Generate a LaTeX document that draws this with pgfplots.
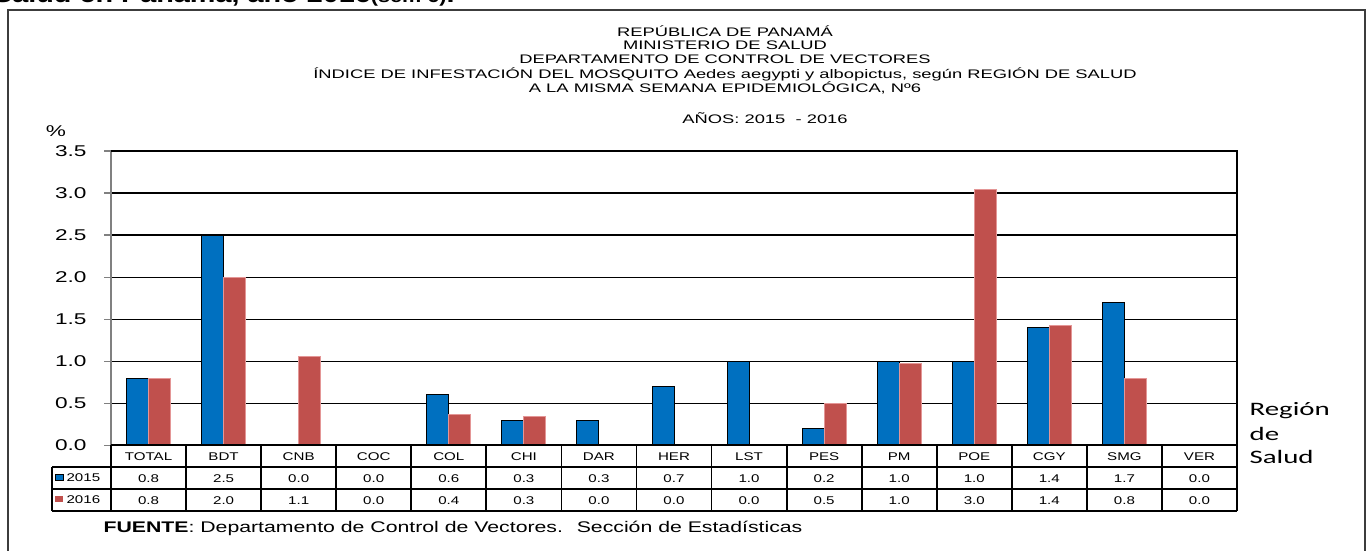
\documentclass[border=0pt]{standalone}
\usepackage{pgfplots}
\pgfplotsset{compat=1.18}
\usepackage{fontspec}
\setmainfont{Liberation Sans}
\newfontfamily\calibri{Carlito}
\definecolor{cblue}{RGB}{0,112,192}
\definecolor{cred}{RGB}{192,80,77}
\definecolor{credge}{RGB}{228,150,150}
\definecolor{frm}{RGB}{60,60,60}
\begin{document}
\begin{tikzpicture}
\useasboundingbox (0,0) rectangle (685pt,275.5pt);
\clip (0,0) rectangle (685pt,275.5pt);
\begin{axis}[
  at={(55.5pt,52.85pt)}, anchor=south west,
  scale only axis, width=563pt, height=147.15pt,
  ymin=0, ymax=3.5, xmin=-0.5, xmax=14.5,
  ybar=0pt, bar width=11pt,
  ytick={0,0.5,1,1.5,2,2.5,3,3.5},
  xtick=\empty,
  ymajorgrids, grid style={black, line width=0.6pt},
  axis line style={draw=none},
  ytick pos=left, tick align=outside, major tick length=3.5pt,
  tick style={gray, line width=0.6pt},
  yticklabel style={font=\fontsize{7.8}{8}\selectfont, xscale=1.45, xshift=-2.5pt, /pgf/number format/fixed, /pgf/number format/zerofill, /pgf/number format/precision=1, /pgf/number format/assume math mode=true},
  clip=false,
]
\addplot[fill=cblue, draw=black, line width=0.5pt] coordinates {(0,0.80) (1,2.50) (2,0) (3,0) (4,0.60) (5,0.30) (6,0.30) (7,0.70) (8,1.00) (9,0.20) (10,1.00) (11,1.00) (12,1.40) (13,1.70) (14,0)};
\addplot[fill=cred, draw=credge, line width=0.5pt] coordinates {(0,0.80) (1,2.00) (2,1.06) (3,0) (4,0.37) (5,0.34) (6,0) (7,0) (8,0) (9,0.50) (10,0.97) (11,3.04) (12,1.42) (13,0.79) (14,0)};
\end{axis}
\begin{scope}[x=0.5pt,y=-0.5pt,shift={(0pt,275.5pt)}]
% outer frame
\draw[frm, line width=1pt] (8,10) rectangle (1365,600);
% cut-off heading
\node[anchor=base east, font=\bfseries\fontsize{12}{13}\selectfont, xscale=1.2, inner sep=0pt] at (455,2.5) {Salud en Panamá, año 2016{\fontsize{9}{10}\selectfont(sem 6)}.};
% plot frame
\draw[gray, line width=0.8pt] (111,445.3) -- (111,151);
\draw[black, line width=0.8pt] (111,151) -- (1237,151) -- (1237,445.3);
% titles
\begin{scope}[every node/.style={font=\fontsize{6.2}{7}\selectfont, xscale=1.48, inner sep=0pt}]
\node at (725,31) {REPÚBLICA DE PANAMÁ};
\node at (725,45) {MINISTERIO DE SALUD};
\node at (725,59) {DEPARTAMENTO DE CONTROL DE VECTORES};
\node at (725,74) {ÍNDICE DE INFESTACIÓN DEL MOSQUITO Aedes aegypti y albopictus, según REGIÓN DE SALUD};
\node at (725,88) {A LA MISMA SEMANA EPIDEMIOLÓGICA, Nº6};
\node at (765,118) {AÑOS: 2015 \ - 2016};
\end{scope}
\node[font=\fontsize{7.8}{8}\selectfont, xscale=1.45, inner sep=0pt] at (56,131) {\%};
% Region de Salud
\begin{scope}[every node/.style={font=\calibri\fontsize{9.5}{10}\selectfont, xscale=1.52, anchor=base west, inner sep=0pt}]
\node at (1249,416) {Región};
\node at (1249,441) {de};
\node at (1249,464) {Salud};
\end{scope}
% table
\draw[line width=0.9pt] (111,445.3) -- (1237,445.3);
\foreach \yy in {467,489,511} \draw[line width=0.9pt] (52,\yy) -- (1237,\yy);
\draw[line width=0.9pt] (52,467) -- (52,511);
\foreach \k in {0,...,15} \draw[line width=0.9pt] ({111+75.0667*\k},445.3) -- ({111+75.0667*\k},511);
\begin{scope}[every node/.style={font=\fontsize{5.6}{6}\selectfont, xscale=1.35, inner sep=0pt}]
\foreach \t [count=\k from 0] in {TOTAL,BDT,CNB,COC,COL,CHI,DAR,HER,LST,PES,PM,POE,CGY,SMG,VER}
  \node at ({111+75.0667*(\k+0.5)},456.5) {\t};
\foreach \t [count=\k from 0] in {0.8,2.5,0.0,0.0,0.6,0.3,0.3,0.7,1.0,0.2,1.0,1.0,1.4,1.7,0.0}
  \node at ({111+75.0667*(\k+0.5)},478.5) {\t};
\foreach \t [count=\k from 0] in {0.8,2.0,1.1,0.0,0.4,0.3,0.0,0.0,0.0,0.5,1.0,3.0,1.4,0.8,0.0}
  \node at ({111+75.0667*(\k+0.5)},500.5) {\t};
\node[anchor=west] at (66,477.5) {2015};
\node[anchor=west] at (66,499.5) {2016};
\end{scope}
\draw[fill=cblue, draw=black, line width=0.4pt] (55,474) rectangle (63,480);
\fill[cred] (55,496) rectangle (63,502);
% source
\node[anchor=base west, inner sep=0pt, font=\fontsize{7.7}{8}\selectfont, xscale=1.38] at (103,533) {\textbf{FUENTE}: Departamento de Control de Vectores. \ Sección de Estadísticas};
\end{scope}
\end{tikzpicture}
\end{document}
